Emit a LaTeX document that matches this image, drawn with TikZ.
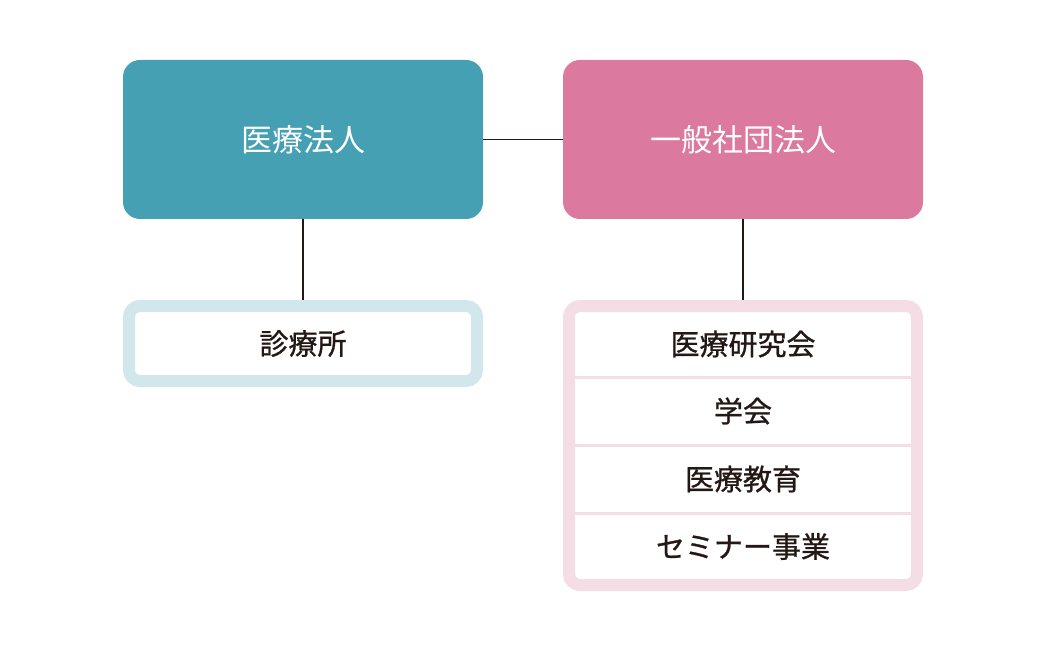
\documentclass[tikz,border=0pt]{standalone}
\usepackage{fontspec}
\newfontfamily\jp{Noto Sans CJK JP}
\newfontfamily\jpm[FakeBold=0.9]{Noto Sans CJK JP}
\definecolor{teal1}{HTML}{46A0B4}
\definecolor{pink1}{HTML}{DB799E}
\definecolor{lteal}{HTML}{D2E7EB}
\definecolor{lpink}{HTML}{F5DDE6}
\definecolor{ink}{HTML}{231815}
\tikzset{
  topbox/.style={rounded corners=17pt, minimum width=360pt, minimum height=159pt, inner sep=0pt, outer sep=0pt, text=white, font=\jp\fontsize{31pt}{36pt}\selectfont},
  framebox/.style={rounded corners=11pt, line width=12pt, fill=white, minimum width=348pt, inner sep=0pt},
  celltext/.style={text=ink, font=\jpm\fontsize{29pt}{34pt}\selectfont, inner sep=0pt},
  conn/.style={draw=ink, line width=1.9pt},
  sep/.style={draw=lpink, line width=3.5pt}
}
\begin{document}
\begin{tikzpicture}[x=1pt,y=-1pt]
\useasboundingbox[fill=white] (0,0) rectangle (1046,652);
\node[topbox, fill=teal1] (hojin) at (303,139.5) {医療法人};
\node[topbox, fill=pink1] (ippan) at (743,139.5) {一般社団法人};
\node[framebox, draw=lteal, minimum height=75pt] (clinic) at (303,343.5) {};
\node[celltext] (clinictext) at (clinic.center) {診療所};
\node[framebox, draw=lpink, minimum height=279pt] (group) at (743,445.5) {};
\node[celltext] (c1) at (743,344) {医療研究会};
\node[celltext] (c2) at (743,411) {学会};
\node[celltext] (c3) at (743,479) {医療教育};
\node[celltext] (c4) at (743,546.5) {セミナー事業};
\draw[sep] (575,377.5) -- (911,377.5);
\draw[sep] (575,445.5) -- (911,445.5);
\draw[sep] (575,513.5) -- (911,513.5);
\draw[conn] (hojin.east) -- (ippan.west);
\draw[conn] (hojin.south) -- (clinic.north);
\draw[conn] (ippan.south) -- (group.north);
\end{tikzpicture}
\end{document}
